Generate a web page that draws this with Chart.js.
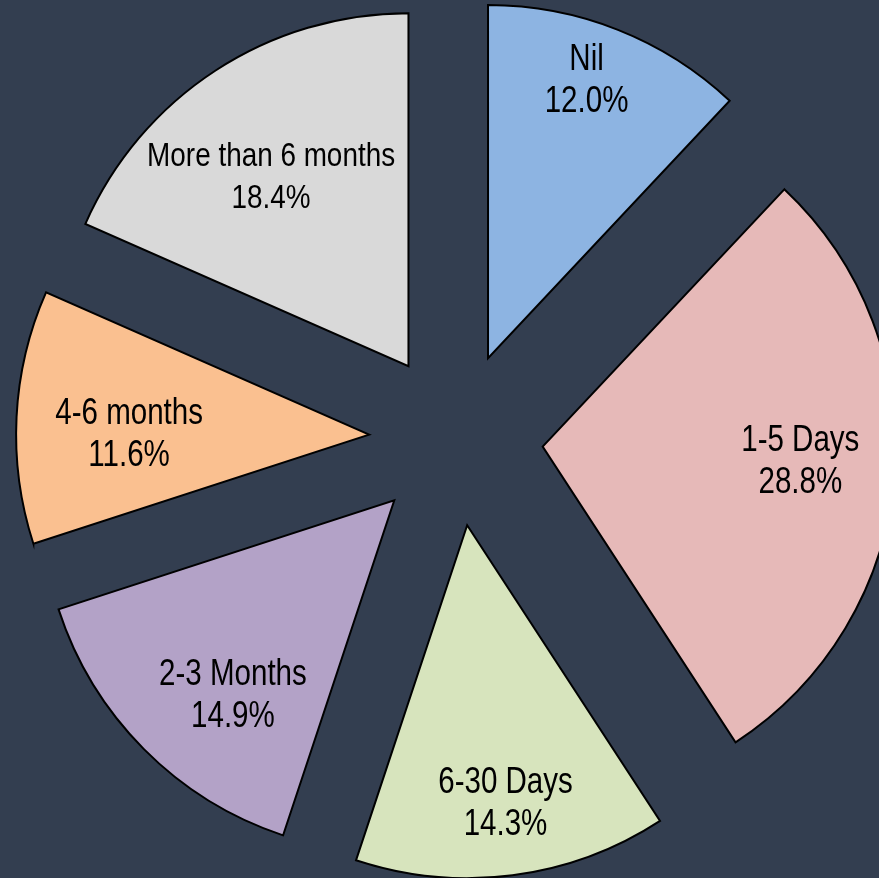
<!DOCTYPE html>
<html>
<head>
<meta charset="utf-8">
<script src="https://cdn.jsdelivr.net/npm/chart.js@4.4.1/dist/chart.umd.min.js"></script>
<style>
    html, body { margin: 0; padding: 0; background: #333e50; }
    #wrap { width: 879px; height: 878px; }
</style>
</head>
<body>
<div id="wrap"><canvas id="chart" width="879" height="878"></canvas></div>
<script>
// ===== DATA =====
const categories = ['Nil', '1-5 Days', '6-30 Days', '2-3 Months', '4-6 months', 'More than 6 months'];
const shares = [12.0, 28.8, 14.3, 14.9, 11.6, 18.4];

// ===== STYLE =====
const sliceColors = ['#8db4e2', '#e6b9b8', '#d7e4bd', '#b3a2c7', '#fac090', '#d9d9d9'];
const explode = 87;        // px each slice is pulled out
const pieRadius = 353;
// label placement: distance from slice tip, and where along the slice angle (0..1)
const labelDist = [296, 258, 279, 252, 240, 235];
const labelAngleFrac = [0.45, 0.48, 0.49, 0.40, 0.44, 0.46];
const labelFontSize = [36, 36, 36, 36, 36, 34];
const lineGap = 42;
const labelNudge = 2;      // text sits a bit low in the original
const narrow = 0.82;       // no narrow font installed -> squeeze Liberation Sans

// pull slices out without chart.js resizing the small ones
const explodePlugin = {
    id: 'explode',
    afterDatasetsUpdate(chart) {
        chart.getDatasetMeta(0).data.forEach(arc => {
            const mid = (arc.startAngle + arc.endAngle) / 2;
            arc.x += Math.cos(mid) * explode;
            arc.y += Math.sin(mid) * explode;
        });
    }
};

// two line labels: name + percent
const labelPlugin = {
    id: 'sliceLabels',
    afterDatasetsDraw(chart) {
        const ctx = chart.ctx;
        chart.getDatasetMeta(0).data.forEach((arc, i) => {
            const a = arc.startAngle + (arc.endAngle - arc.startAngle) * labelAngleFrac[i];
            const x = arc.x + Math.cos(a) * labelDist[i];
            const y = arc.y + Math.sin(a) * labelDist[i] + labelNudge;
            ctx.save();
            ctx.translate(x, y);
            ctx.scale(narrow, 1);
            ctx.fillStyle = '#000';
            ctx.textAlign = 'center';
            ctx.textBaseline = 'middle';
            ctx.font = labelFontSize[i] + 'px "Liberation Sans", Arial, sans-serif';
            ctx.fillText(categories[i], 0, -lineGap / 2);
            ctx.fillText(shares[i].toFixed(1) + '%', 0, lineGap / 2);
            ctx.restore();
        });
    }
};

new Chart(document.getElementById('chart'), {
    type: 'pie',
    data: {
        labels: categories,
        datasets: [{
            data: shares,
            backgroundColor: sliceColors,
            borderColor: '#000',
            borderWidth: 2,
            borderJoinStyle: 'miter',
            radius: pieRadius,
            clip: false
        }]
    },
    options: {
        responsive: false,
        animation: false,
        events: [],
        layout: { padding: { left: 33, right: 0, top: 0, bottom: 0 } },
        plugins: { legend: { display: false }, tooltip: { enabled: false } }
    },
    plugins: [explodePlugin, labelPlugin]
});
</script>
</body>
</html>
